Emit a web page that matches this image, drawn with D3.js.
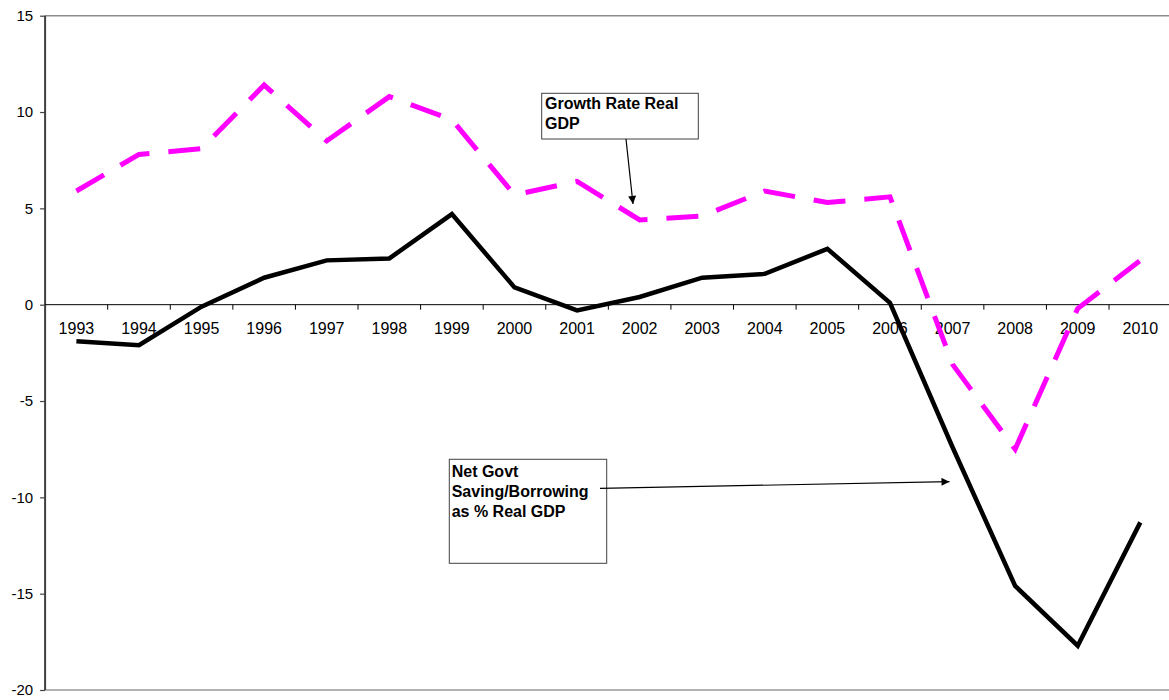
<!DOCTYPE html>
<html>
<head>
<meta charset="utf-8">
<script src="https://cdn.jsdelivr.net/npm/d3@7"></script>
<style>
  html, body { margin: 0; padding: 0; background: #fff; }
  svg { display: block; font-family: Arial, "Liberation Sans", sans-serif; }
</style>
</head>
<body>
<svg id="chart" width="1169" height="700"></svg>
<script>
// ---- data ----
const years = ["1993","1994","1995","1996","1997","1998","1999","2000","2001","2002","2003","2004","2005","2006","2007","2008","2009","2010"];
const growthRealGDP = [5.9, 7.8, 8.1, 11.4, 8.5, 10.8, 9.6, 5.7, 6.4, 4.4, 4.6, 5.9, 5.3, 5.6, -3.1, -7.5, -0.2, 2.3];
const netGovtSaving = [-1.9, -2.1, -0.1, 1.4, 2.3, 2.4, 4.7, 0.9, -0.3, 0.4, 1.4, 1.6, 2.9, 0.1, -7.4, -14.6, -17.7, -11.3];
const yTicks = [15, 10, 5, 0, -5, -10, -15, -20];
const growthLabel = ["Growth Rate Real", "GDP"];
const netGovtLabel = ["Net Govt", "Saving/Borrowing", "as % Real GDP"];

// ---- layout ----
const W = 1169, H = 700;
const plotLeft = 45.1, plotRight = 1171.6, plotTop = 15.7, plotBottom = 690;

const svg = d3.select("#chart");

const x = d3.scaleBand().domain(years).range([plotLeft, plotRight]).padding(0);
const y = d3.scaleLinear().domain([-20, 15]).range([plotBottom, plotTop]);

// plot frame (top & bottom border)
svg.append("line").attr("x1", plotLeft).attr("x2", W).attr("y1", y(15)).attr("y2", y(15))
  .attr("stroke", "#8c8c8c").attr("stroke-width", 1.5);
svg.append("line").attr("x1", plotLeft).attr("x2", W).attr("y1", y(-20)).attr("y2", y(-20))
  .attr("stroke", "#9a9a9a").attr("stroke-width", 1.5);

// y axis
const yAxis = d3.axisLeft(y).tickValues(yTicks).tickSize(5).tickPadding(7).tickFormat(d => String(d));
const gy = svg.append("g").attr("transform", `translate(${plotLeft},0)`).call(yAxis);
gy.select(".domain").attr("stroke", "#404040").attr("stroke-width", 2).attr("d", `M0,${plotTop}V${plotBottom}`);
gy.selectAll(".tick line").attr("stroke", "#404040").attr("stroke-width", 1.2);
gy.selectAll(".tick text").attr("font-size", 15).attr("fill", "#000")
  .attr("font-family", "Arial, 'Liberation Sans', sans-serif");

// x axis at zero
const gx = svg.append("g").attr("transform", `translate(0,${y(0)})`);
gx.append("line").attr("x1", plotLeft).attr("x2", W).attr("y1", 0).attr("y2", 0)
  .attr("stroke", "#000").attr("stroke-width", 1);
gx.selectAll("line.tk").data(years.slice(1)).join("line").attr("class", "tk")
  .attr("x1", d => x(d)).attr("x2", d => x(d)).attr("y1", 0).attr("y2", 5)
  .attr("stroke", "#000").attr("stroke-width", 1);
gx.selectAll("text").data(years).join("text")
  .attr("x", d => x(d) + x.bandwidth() / 2).attr("y", 29)
  .attr("text-anchor", "middle").attr("font-size", 16).attr("fill", "#000")
  .text(d => d);

// lines
const line = d3.line().x((d, i) => x(years[i]) + x.bandwidth() / 2).y(d => y(d));

svg.append("path").datum(netGovtSaving).attr("d", line)
  .attr("fill", "none").attr("stroke", "#000").attr("stroke-width", 4.5)
  .attr("stroke-linejoin", "miter");

svg.append("path").datum(growthRealGDP).attr("d", line)
  .attr("fill", "none").attr("stroke", "#FF00FF").attr("stroke-width", 5)
  .attr("stroke-dasharray", "32,19").attr("stroke-linejoin", "miter");

// arrow marker
svg.append("defs").append("marker").attr("id", "arrow")
  .attr("viewBox", "0 0 10 10").attr("refX", 10).attr("refY", 5)
  .attr("markerWidth", 10).attr("markerHeight", 8).attr("markerUnits", "userSpaceOnUse")
  .attr("orient", "auto")
  .append("path").attr("d", "M0,0L10,5L0,10Z").attr("fill", "#000");

// annotation 1
svg.append("rect").attr("x", 541.7).attr("y", 93.3).attr("width", 156.6).attr("height", 45.7)
  .attr("fill", "#fff").attr("stroke", "#404040").attr("stroke-width", 1);
svg.append("g").selectAll("text").data(growthLabel).join("text")
  .attr("x", 545).attr("y", (d, i) => 109.3 + i * 20)
  .attr("font-size", 16).attr("font-weight", "bold").attr("fill", "#000").text(d => d);
svg.append("line").attr("x1", 626).attr("y1", 139).attr("x2", 633).attr("y2", 204)
  .attr("stroke", "#000").attr("stroke-width", 1.2).attr("marker-end", "url(#arrow)");

// annotation 2
svg.append("rect").attr("x", 449.3).attr("y", 459.3).attr("width", 157.4).attr("height", 104)
  .attr("fill", "#fff").attr("stroke", "#404040").attr("stroke-width", 1);
svg.append("g").selectAll("text").data(netGovtLabel).join("text")
  .attr("x", 451.7).attr("y", (d, i) => 476.7 + i * 20)
  .attr("font-size", 16).attr("font-weight", "bold").attr("fill", "#000").text(d => d);
svg.append("line").attr("x1", 600).attr("y1", 488.3).attr("x2", 949.5).attr("y2", 481.7)
  .attr("stroke", "#000").attr("stroke-width", 1.2).attr("marker-end", "url(#arrow)");
</script>
</body>
</html>
